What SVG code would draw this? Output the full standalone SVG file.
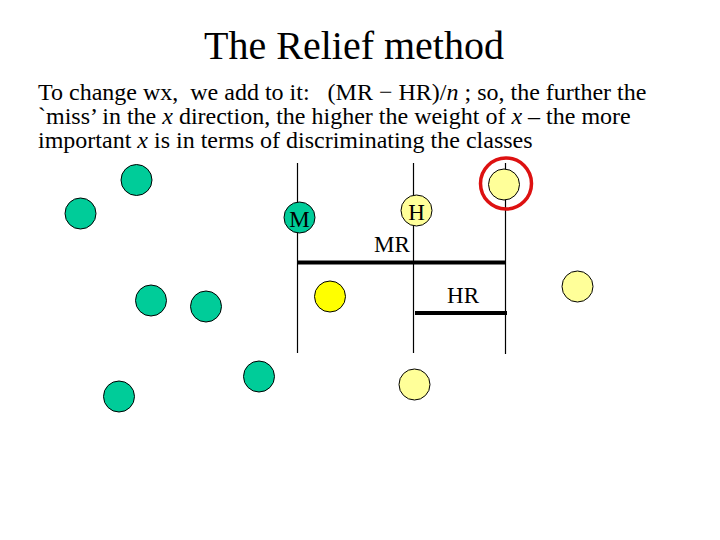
<svg xmlns="http://www.w3.org/2000/svg" width="720" height="540" viewBox="0 0 720 540">
<style>
text{font-family:"Liberation Serif","Times New Roman",serif;fill:#000;white-space:pre}
.title{font-size:40px}
.body{font-size:24px}
.lbl{font-size:23px}
.g{fill:#00CC99;stroke:#000;stroke-width:1}
.y{fill:#FFFF00;stroke:#000;stroke-width:1}
.ly{fill:#FFFF99;stroke:#000;stroke-width:1}
.thin{stroke:#000;stroke-width:1.2;fill:none}
.thick{stroke:#000;stroke-width:4;fill:none}
</style>
<rect width="720" height="540" fill="#fff"/>
<text class="title" x="354" y="59" text-anchor="middle">The Relief method</text>
<text class="body" x="38" y="100" xml:space="preserve">To change wx,  we add to it:   (MR − HR)/<tspan font-style="italic">n</tspan> ; so, the further the</text>
<text class="body" x="38" y="124" xml:space="preserve">`miss’ in the <tspan font-style="italic">x</tspan> direction, the higher the weight of <tspan font-style="italic">x</tspan> – the more</text>
<text class="body" x="38" y="148" xml:space="preserve">important <tspan font-style="italic">x</tspan> is in terms of discriminating the classes</text>
<g id="connectors">
<line class="thin" x1="297.5" y1="163" x2="297.5" y2="353"/>
<line class="thin" x1="413.5" y1="163" x2="413.5" y2="353"/>
<line class="thin" x1="505.5" y1="163" x2="505.5" y2="354"/>
<line class="thick" x1="297" y1="262.5" x2="506" y2="262.5"/>
<line class="thick" x1="415" y1="313" x2="507" y2="313"/>
</g>
<g id="g1"><circle class="g" cx="136.5" cy="180" r="15.5"/></g>
<g id="g2"><circle class="g" cx="80.5" cy="213.5" r="15.5"/></g>
<g id="g3"><circle class="g" cx="151" cy="300.5" r="15.5"/></g>
<g id="g4"><circle class="g" cx="206" cy="306.5" r="15.5"/></g>
<g id="g5"><circle class="g" cx="259" cy="376.5" r="15.5"/></g>
<g id="g6"><circle class="g" cx="119" cy="396.5" r="15.5"/></g>
<g id="M"><circle class="g" cx="299.5" cy="217.5" r="15.5"/><text class="lbl" x="299.5" y="226.5" text-anchor="middle" font-size="25">M</text></g>
<g id="y1"><circle class="y" cx="330" cy="296.5" r="15.5"/></g>
<g id="H"><circle class="ly" cx="416.5" cy="210.5" r="15.5"/><text class="lbl" x="416.5" y="219.5" text-anchor="middle" font-size="24">H</text></g>
<g id="target"><circle class="ly" cx="504" cy="184.5" r="15.5"/><circle cx="506" cy="183.5" r="25.5" fill="none" stroke="#DD1111" stroke-width="3.5"/></g>
<g id="y2"><circle class="ly" cx="577.5" cy="286.5" r="15.5"/></g>
<g id="y3"><circle class="ly" cx="414.5" cy="384.5" r="15.5"/></g>
<g id="MRlabel"><text class="lbl" x="392" y="252" text-anchor="middle">MR</text></g>
<g id="HRlabel"><text class="lbl" x="463" y="303" text-anchor="middle">HR</text></g>
</svg>
